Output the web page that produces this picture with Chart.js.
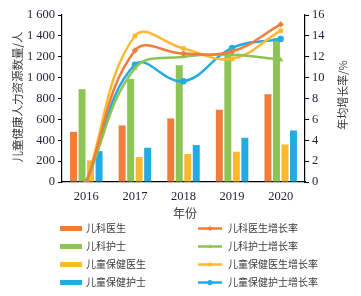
<!DOCTYPE html>
<html><head><meta charset="utf-8">
<script src="https://cdn.jsdelivr.net/npm/chart.js@4.4.1/dist/chart.umd.min.js"></script>
<style>html,body{margin:0;padding:0;background:#fff;}#wrap{width:361px;height:296px;position:relative;}</style>
</head><body><div id="wrap"><canvas id="c" width="361" height="296"></canvas></div>
<script>
const years = ['2016','2017','2018','2019','2020'];
const barNames = ['儿科医生','儿科护士','儿童保健医生','儿童保健护士'];
const lineNames = ['儿科医生增长率','儿科护士增长率','儿童保健医生增长率','儿童保健护士增长率'];
const pedDoctors = [481, 542, 609, 692, 841];
const pedNurses = [889, 988, 1119, 1232, 1380];
const chDoctors = [207, 239, 268, 290, 360];
const chNurses = [296, 328, 354, 424, 494];
const pedDoctorsRate = [0, 12.6, 12.3, 12.5, 15.1];
const pedNursesRate = [0, 10.9, 12.0, 12.2, 11.7];
const chDoctorsRate = [0, 14.0, 12.8, 11.8, 14.5];
const chNursesRate = [0, 11.25, 9.65, 12.85, 13.7];
const leftTicks = [0,200,400,600,800,1000,1200,1400,1600];
const rightTicks = [0,2,4,6,8,10,12,14,16];
const colors = ['#F07E3A','#8DC456','#FDB92E','#23ABE3'];
const markers = ['rectRot','triangle','rect','circle'];
const yTitleL = '儿童健康人力资源数量/人';
const yTitleR = '年均增长率/%';
const xTitle = '年份';

const barData = [pedDoctors, pedNurses, chDoctors, chNurses];
const lineData = [pedDoctorsRate, pedNursesRate, chDoctorsRate, chNursesRate];
const datasets = [];
lineData.forEach((d,i)=>datasets.push({type:'line',label:lineNames[i],data:d,yAxisID:'y2',
  borderColor:colors[i],backgroundColor:colors[i],borderWidth:2.5,tension:0.4,
  pointStyle:markers[i],pointRadius:3.2,pointBorderWidth:0,order:0}));
barData.forEach((d,i)=>datasets.push({type:'bar',label:barNames[i],data:d,yAxisID:'y',
  backgroundColor:colors[i],categoryPercentage:0.70,barPercentage:0.82,order:1}));

const serif = "'Liberation Serif','DejaVu Serif',serif";
const cjk = "'Noto Sans CJK SC','Noto Sans',sans-serif";
const tickColor = '#1e1e3a';
const textColor = '#3a3a3a';

const fmt = v => { const s=String(v); return s.length>3 ? s.slice(0,-3)+' '+s.slice(-3) : s; };

const extras = {
  id:'extras',
  afterDraw(chart){
    const ctx = chart.ctx, ca = chart.chartArea;
    ctx.save();
    ctx.fillStyle = textColor;
    ctx.textAlign='center'; ctx.textBaseline='middle';
    ctx.font = "11.5px " + cjk;
    ctx.save(); ctx.translate(17.5,97); ctx.rotate(-Math.PI/2); ctx.fillText(yTitleL,0,0); ctx.restore();
    ctx.font = "11px " + cjk;
    ctx.save(); ctx.translate(343,95); ctx.rotate(-Math.PI/2); ctx.fillText(yTitleR,0,0); ctx.restore();
    ctx.font = "12px " + cjk;
    ctx.fillText(xTitle,185,213);
    ctx.font = "10px " + cjk;
    const rows=[228.5,246.5,264.5,282.5];
    ctx.textAlign='left';
    for(let i=0;i<4;i++){
      const y=rows[i];
      ctx.fillStyle=colors[i];
      ctx.fillRect(60,y-2.5,22,5);
      ctx.fillStyle=textColor;
      ctx.fillText(barNames[i],86,y);
      ctx.strokeStyle=colors[i]; ctx.lineWidth=2.5;
      ctx.beginPath(); ctx.moveTo(198,y); ctx.lineTo(222,y); ctx.stroke();
      ctx.fillStyle=colors[i];
      Chart.helpers.drawPoint(ctx,{pointStyle:markers[i],radius:2.6,borderWidth:0},210,y);
      ctx.fillStyle=textColor;
      ctx.fillText(lineNames[i],228,y);
    }
    ctx.restore();
  }
};

new Chart(document.getElementById('c'),{
  data:{labels:years,datasets},
  options:{
    responsive:false,animation:false,
    layout:{padding:{top:15,bottom:75,left:0,right:0}},
    plugins:{legend:{display:false},tooltip:{enabled:false}},
    scales:{
      x:{grid:{display:false,drawTicks:false},border:{display:true,color:'#000',width:1.2},
         ticks:{color:tickColor,font:{family:serif,size:12.5},padding:7},
         afterFit(s){s.height=39;}},
      y:{position:'left',min:0,max:1600,afterBuildTicks(s){s.ticks=leftTicks.map(v=>({value:v}));},
         grid:{drawOnChartArea:false,drawTicks:true,tickLength:4,color:'#000'},
         border:{display:true,color:'#000',width:1.2},
         ticks:{color:tickColor,font:{family:serif,size:12.5},padding:3,callback:v=>fmt(v)},
         afterFit(s){s.width=62;}},
      y2:{position:'right',min:0,max:16,afterBuildTicks(s){s.ticks=rightTicks.map(v=>({value:v}));},
         grid:{drawOnChartArea:false,drawTicks:true,tickLength:4,color:'#000'},
         border:{display:true,color:'#000',width:1.2},
         ticks:{color:tickColor,font:{family:serif,size:12.5},padding:3},
         afterFit(s){s.width=56;}}
    }
  },
  plugins:[extras]
});
</script></body></html>
